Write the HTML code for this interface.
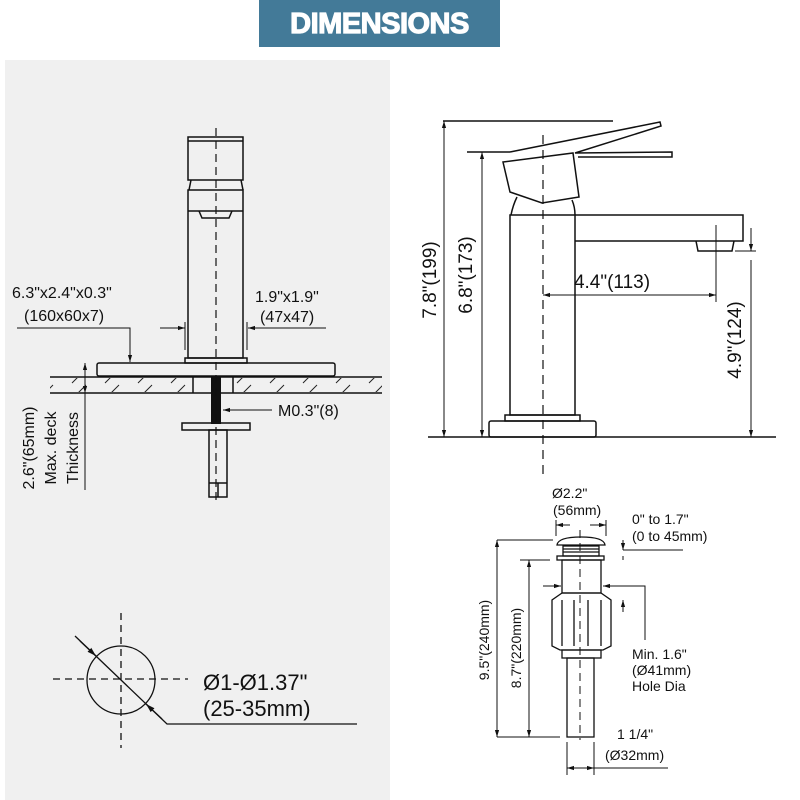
<!DOCTYPE html>
<html><head><meta charset="utf-8"><style>
html,body{margin:0;padding:0;background:#fff;}
svg{display:block;font-family:"Liberation Sans",Arial,sans-serif;}
</style></head><body>
<svg width="800" height="800" viewBox="0 0 800 800" xmlns="http://www.w3.org/2000/svg">
<defs>
<marker id="a" viewBox="0 0 10 10" refX="10" refY="5" markerWidth="7" markerHeight="7" orient="auto-start-reverse"><path d="M0,2 L10,5 L0,8 z" fill="#111"/></marker>
<pattern id="h" width="33" height="16" patternUnits="userSpaceOnUse"><path d="M6,15 L20,1" stroke="#222" stroke-width="1"/></pattern>
</defs>
<rect x="5" y="60" width="385" height="740" fill="#f0f0f0"/>
<rect x="259" y="0" width="241" height="47" fill="#437a98"/>
<text x="379.5" y="33" font-size="29" font-weight="bold" fill="#fff" text-anchor="middle" stroke="#fff" stroke-width="1.2" letter-spacing="-0.5">DIMENSIONS</text>

<g fill="none" stroke="#111" stroke-width="1.5">
<rect x="188" y="137" width="55" height="43"/>
<line x1="188" y1="141" x2="243" y2="141"/>
<path d="M191,180 L189,190 M241,180 L243,190"/>
<rect x="188" y="190" width="55" height="168"/>
<line x1="188" y1="211" x2="243" y2="211"/>
<path d="M199,211 L202,218 L229,218 L232,211"/>
<rect x="185" y="358" width="62" height="5"/>
<rect x="97" y="363" width="238" height="13" rx="2"/>
<line x1="50" y1="377" x2="382" y2="377"/>
<line x1="50" y1="393" x2="382" y2="393"/>
<line x1="193" y1="377" x2="193" y2="393"/>
<line x1="233" y1="377" x2="233" y2="393"/>
<rect x="182" y="423" width="68" height="7"/>
<rect x="209" y="430" width="18" height="67"/>
<line x1="209" y1="483" x2="227" y2="483"/>
<line x1="218" y1="483" x2="218" y2="497"/>
</g>
<rect x="50" y="378" width="143" height="14" fill="url(#h)"/>
<rect x="233" y="378" width="149" height="14" fill="url(#h)"/>
<rect x="211" y="377" width="10" height="47" fill="#111"/>
<line x1="216" y1="128" x2="216" y2="500" stroke="#111" stroke-width="1.2" stroke-dasharray="8,5"/>

<g fill="none" stroke="#111" stroke-width="1">
<path d="M17,328 L130,328 L130,362" marker-end="url(#a)"/>
<line x1="160" y1="328" x2="185" y2="328" marker-end="url(#a)"/>
<line x1="185" y1="322" x2="185" y2="350"/>
<line x1="326" y1="328" x2="248" y2="328" marker-end="url(#a)"/>
<line x1="247" y1="322" x2="247" y2="350"/>
<line x1="272" y1="410" x2="223" y2="410" marker-end="url(#a)"/>
<line x1="85" y1="363" x2="85" y2="490"/>
<line x1="85" y1="370" x2="85" y2="363" marker-end="url(#a)"/>
<line x1="85" y1="386" x2="85" y2="393" marker-end="url(#a)"/>
</g>
<g font-size="16" fill="#111">
<text x="12" y="298">6.3"x2.4"x0.3"</text>
<text x="24" y="321">(160x60x7)</text>
<text x="255" y="302">1.9"x1.9"</text>
<text x="260" y="322">(47x47)</text>
<text x="278" y="416">M0.3"(8)</text>
<text transform="translate(34,448) rotate(-90)" text-anchor="middle">2.6"(65mm)</text>
<text transform="translate(56,448) rotate(-90)" text-anchor="middle">Max. deck</text>
<text transform="translate(78,448) rotate(-90)" text-anchor="middle">Thickness</text>
</g>

<g fill="none" stroke="#111" stroke-width="1.3">
<circle cx="121" cy="680" r="34"/>
<line x1="53" y1="679" x2="188" y2="679" stroke-dasharray="7,5"/>
<line x1="121" y1="613" x2="121" y2="748" stroke-dasharray="7,5"/>
<path d="M75,636 L167,724 L357,724"/>
<line x1="80" y1="641" x2="96" y2="656" marker-end="url(#a)"/>
<line x1="162" y1="719" x2="146" y2="704" marker-end="url(#a)"/>
</g>
<g font-size="22" fill="#111">
<text x="203" y="690">Ø1-Ø1.37"</text>
<text x="203" y="716">(25-35mm)</text>
</g>

<g fill="none" stroke="#111" stroke-width="1.5">
<line x1="428" y1="437" x2="776" y2="437"/>
<line x1="443" y1="121" x2="613" y2="121"/>
<line x1="467" y1="152" x2="510" y2="152"/>
<path d="M510,152 L660,122 L661,126 L575,153 L672,152 L672,157 L578,157"/>
<path d="M503,162 L573,153 L579,197 L542,203 L510,192 Z"/>
<path d="M517,197 Q513,205 511,215 M572,200 Q575,207 575,215"/>
<rect x="510" y="215" width="65" height="200"/>
<rect x="505" y="415" width="75" height="6"/>
<rect x="489" y="421" width="107" height="16" rx="2"/>
<path d="M575,215 L743,215 L743,241 L575,241"/>
<path d="M696,241 L698,251 L732,251 L734,241"/>
</g>
<line x1="543" y1="135" x2="543" y2="475" stroke="#111" stroke-width="1.2" stroke-dasharray="9,6"/>
<g fill="none" stroke="#111" stroke-width="1">
<line x1="444" y1="135" x2="444" y2="121" marker-end="url(#a)"/>
<line x1="444" y1="130" x2="444" y2="437" marker-end="url(#a)"/>
<line x1="482" y1="165" x2="482" y2="152" marker-end="url(#a)"/>
<line x1="482" y1="160" x2="482" y2="437" marker-end="url(#a)"/>
<line x1="560" y1="295" x2="543" y2="295" marker-end="url(#a)"/>
<line x1="550" y1="295" x2="716" y2="295" marker-end="url(#a)"/>
<line x1="716" y1="225" x2="716" y2="302"/>
<line x1="735" y1="251" x2="756" y2="251"/>
<line x1="751" y1="228" x2="751" y2="251" marker-end="url(#a)"/>
<line x1="751" y1="260" x2="751" y2="437" marker-end="url(#a)"/>
</g>
<g font-size="19" fill="#111">
<text x="612" y="288" text-anchor="middle">4.4"(113)</text>
<text transform="translate(436,280) rotate(-90)" text-anchor="middle">7.8"(199)</text>
<text transform="translate(472,275) rotate(-90)" text-anchor="middle">6.8"(173)</text>
<text transform="translate(741,340) rotate(-90)" text-anchor="middle">4.9"(124)</text>
</g>

<g fill="none" stroke="#111" stroke-width="1.3">
<path d="M557,545 Q558,537 581,537 Q604,537 605,545 Z"/>
<rect x="563" y="546" width="36" height="10"/>
<line x1="563" y1="549" x2="599" y2="549"/><line x1="563" y1="552" x2="599" y2="552"/>
<rect x="557" y="556" width="47" height="4"/>
<rect x="562" y="560" width="39" height="33"/>
<path d="M562,593 L552,600 L552,646 L560,650 L603,650 L611,646 L611,600 L601,593 Z"/>
<path d="M562,600 L562,646 M574,600 L574,646 M588,600 L588,646 M601,600 L601,646"/>
<rect x="562" y="650" width="39" height="8"/>
<rect x="567" y="658" width="27" height="79"/>
</g>
<line x1="580" y1="530" x2="580" y2="740" stroke="#111" stroke-width="1" stroke-dasharray="8,5"/>
<g fill="none" stroke="#111" stroke-width="1">
<line x1="556" y1="520" x2="556" y2="536"/><line x1="606" y1="520" x2="606" y2="536"/>
<line x1="570" y1="525" x2="556" y2="525" marker-end="url(#a)"/>
<line x1="590" y1="525" x2="606" y2="525" marker-end="url(#a)"/>
<path d="M683,550 L623,550"/>
<line x1="623" y1="540" x2="623" y2="550" marker-end="url(#a)"/>
<line x1="623" y1="560" x2="623" y2="556"/>
<line x1="623" y1="612" x2="623" y2="600" marker-end="url(#a)"/>
<line x1="497" y1="540" x2="553" y2="540"/>
<line x1="497" y1="737" x2="560" y2="737"/>
<line x1="497" y1="550" x2="497" y2="540" marker-end="url(#a)"/>
<line x1="497" y1="545" x2="497" y2="737" marker-end="url(#a)"/>
<line x1="520" y1="560" x2="550" y2="560"/>
<line x1="529" y1="570" x2="529" y2="560" marker-end="url(#a)"/>
<line x1="529" y1="565" x2="529" y2="737" marker-end="url(#a)"/>
<line x1="543" y1="586" x2="561" y2="586" marker-end="url(#a)"/>
<path d="M645,640 L645,586 L603,586" marker-end="url(#a)"/>
<line x1="567" y1="742" x2="567" y2="775"/><line x1="594" y1="742" x2="594" y2="775"/>
<line x1="580" y1="768" x2="567" y2="768" marker-end="url(#a)"/>
<line x1="580" y1="768" x2="594" y2="768" marker-end="url(#a)"/>
<line x1="594" y1="768" x2="668" y2="768"/>
</g>
<g font-size="14" fill="#111">
<text x="552" y="498">Ø2.2"</text>
<text x="553" y="515">(56mm)</text>
<text x="632" y="524">0" to 1.7"</text>
<text x="632" y="541">(0 to 45mm)</text>
<text x="632" y="659">Min. 1.6"</text>
<text x="632" y="675">(Ø41mm)</text>
<text x="632" y="691">Hole Dia</text>
<text x="617" y="739">1 1/4"</text>
<text x="605" y="760">(Ø32mm)</text>
<text transform="translate(489,640) rotate(-90)" text-anchor="middle">9.5"(240mm)</text>
<text transform="translate(521,648) rotate(-90)" text-anchor="middle">8.7"(220mm)</text>
</g>
</svg>
</body></html>
